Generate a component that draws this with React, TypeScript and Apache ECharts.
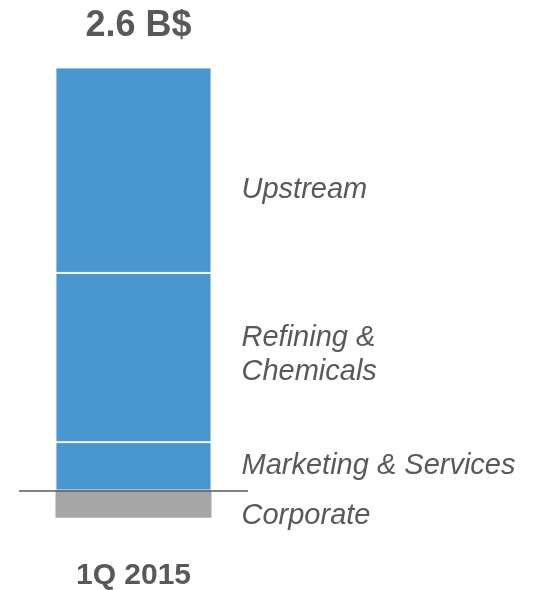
import React, { useEffect, useRef } from "react";
import * as echarts from "echarts";

const categories = ["1Q 2015"];
const totalLabel = "2.6 B$";
const segmentNames = ["Marketing & Services", "Refining &\nChemicals", "Upstream", "Corporate"];
const marketingServices = [0.32];
const refiningChemicals = [1.12];
const upstream = [1.36];
const corporate = [-0.18];

const FONT = "'Liberation Sans', Arial, sans-serif";
const BLUE = "#4A96CE";
const GRAY = "#A6A6A6";
const TEXT = "#595959";

export default function App() {
  const ref = useRef<HTMLDivElement>(null);
  useEffect(() => {
    if (!ref.current) return;
    const chart = echarts.init(ref.current, undefined, { renderer: "svg" });
    const labelBase = {
      show: true,
      position: "right",
      distance: 30,
      color: TEXT,
      fontFamily: FONT,
      fontStyle: "italic",
      fontSize: 29,
      lineHeight: 34,
      align: "left",
      formatter: (p: any) => p.seriesName,
    };
    const mk = (name: string, data: number[], color: string, offset: number[], extra: any = {}) => ({
      name,
      type: "bar",
      stack: "total",
      data,
      barWidth: 156,
      itemStyle: { color, borderColor: "rgba(255,255,255,0.85)", borderWidth: 1 },
      label: { ...labelBase, offset },
      ...extra,
    });
    chart.setOption({
      animation: false,
      title: {
        text: totalLabel,
        left: 133.5,
        textAlign: "center",
        top: 0,
        textStyle: { fontFamily: FONT, fontWeight: "bold", fontSize: 36, color: TEXT },
      },
      grid: { left: 19, right: 285, top: 67.5, bottom: 69.3 },
      xAxis: {
        type: "category",
        data: categories,
        axisLine: { show: false, onZero: false },
        axisTick: { show: false },
        axisLabel: { margin: 38, fontFamily: FONT, fontWeight: "bold", fontSize: 30, color: TEXT },
      },
      yAxis: {
        type: "value",
        min: -0.2,
        max: 2.8,
        show: false,
        splitLine: { show: false },
      },
      series: [
        mk(segmentNames[0], marketingServices, BLUE, [0, -2]),
        mk(segmentNames[1], refiningChemicals, BLUE, [0, -5]),
        mk(segmentNames[2], upstream, BLUE, [0, 18]),
        mk(segmentNames[3], corporate, GRAY, [0, 10], {
          itemStyle: { color: GRAY, borderWidth: 0 },
          markLine: {
            silent: true,
            symbol: ["none", "none"],
            label: { show: false },
            lineStyle: { color: "#5a5a5a", width: 1.5, type: "solid" },
            data: [{ yAxis: 0 }],
          },
        }),
      ],
    });
    return () => chart.dispose();
  }, []);
  return (
    <div
      ref={ref}
      style={{ position: "fixed", left: 0, top: 0, width: 533, height: 590 }}
    />
  );
}
